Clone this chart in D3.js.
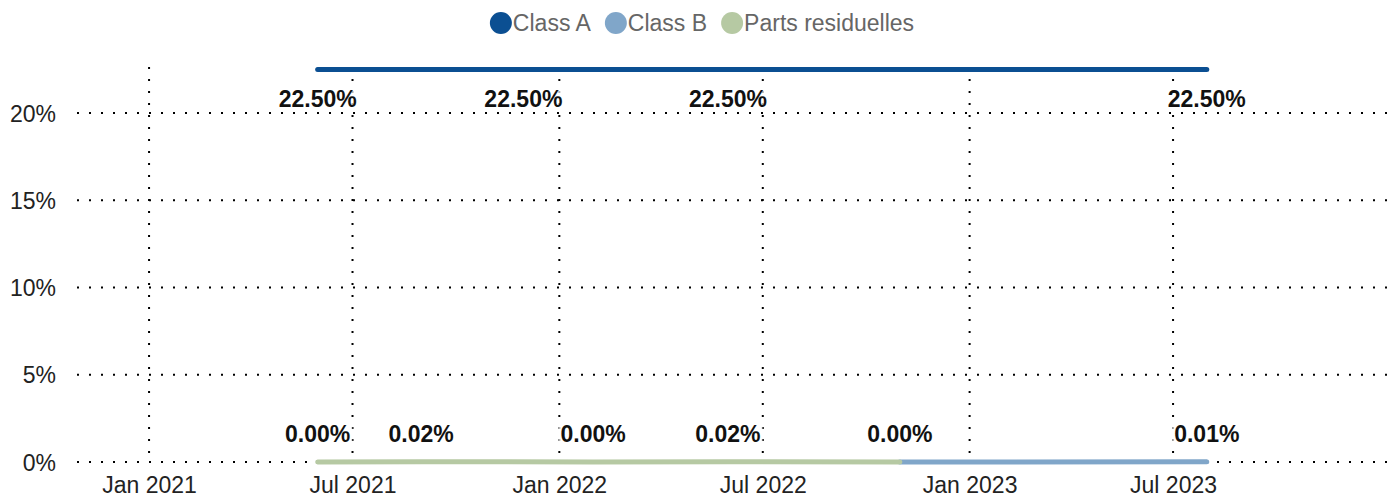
<!DOCTYPE html>
<html>
<head>
<meta charset="utf-8">
<script src="https://cdn.jsdelivr.net/npm/d3@7"></script>
<style>
  body { margin: 0; background: #fff; }
  svg { font-family: "Liberation Sans", Arial, sans-serif; }
</style>
</head>
<body>
<div id="chart"></div>
<script>
// Chart data
const seriesNames = ['Class A', 'Class B', 'Parts residuelles'];
const seriesColors = ['#0b4f92', '#80a6c9', '#b6c9a3'];

const classADates = ['2021-05-31', '2021-11-30', '2022-05-31', '2023-07-31'];
const classAValues = [22.5, 22.5, 22.5, 22.5];

const classBDates = ['2022-10-31', '2023-07-31'];
const classBValues = [0.00, 0.01];

const residDates = ['2021-05-31', '2021-08-31', '2022-01-31', '2022-05-31', '2022-10-31'];
const residValues = [0.00, 0.02, 0.00, 0.02, 0.00];

const yTicks = [0, 5, 10, 15, 20];
const xTickDates = ['2021-01-01', '2021-07-01', '2022-01-01', '2022-07-01', '2023-01-01', '2023-07-01'];

// Svg constants
const width = 1394, height = 497;
const plotLeft = 76, plotRight = 1390, plotTop = 66, plotBottom = 462;

const parse = d3.timeParse('%Y-%m-%d');

const series = [
    { name: seriesNames[0], color: seriesColors[0], labelPos: 'below',
      points: classADates.map((d, i) => ({ date: parse(d), value: classAValues[i] })) },
    { name: seriesNames[1], color: seriesColors[1], labelPos: 'above',
      points: classBDates.map((d, i) => ({ date: parse(d), value: classBValues[i] })) },
    { name: seriesNames[2], color: seriesColors[2], labelPos: 'above',
      points: residDates.map((d, i) => ({ date: parse(d), value: residValues[i] })) }
];

const svg = d3.select('#chart')
                .append('svg')
                .attr('width', width)
                .attr('height', height);

const x = d3.scaleTime()
            .domain([parse('2020-10-28'), parse('2024-01-10')])
            .range([plotLeft, plotRight]);

const y = d3.scaleLinear()
            .domain([0, 22.7])
            .range([plotBottom, plotTop]);

const xTicks = xTickDates.map(parse);

// Grid lines (dotted)
const grid = svg.append('g');
grid.selectAll('.hgrid')
    .data(yTicks)
    .join('line')
        .attr('x1', plotLeft + 1).attr('x2', plotRight)
        .attr('y1', d => y(d)).attr('y2', d => y(d))
        .attr('stroke', '#000')
        .attr('stroke-width', 2)
        .attr('stroke-dasharray', '2,10');

grid.selectAll('.vgrid')
    .data(xTicks)
    .join('line')
        .attr('x1', d => x(d)).attr('x2', d => x(d))
        .attr('y1', plotTop + 1).attr('y2', plotBottom)
        .attr('stroke', '#000')
        .attr('stroke-width', 2)
        .attr('stroke-dasharray', '2,10');

// Axes
const yAxis = svg.append('g')
    .attr('transform', `translate(${plotLeft - 20},0)`)
    .call(d3.axisLeft(y).tickValues(yTicks).tickFormat(d => d + '%').tickSize(0).tickPadding(0));
yAxis.select('.domain').remove();
yAxis.selectAll('text')
    .attr('font-size', 23)
    .attr('font-family', '"Liberation Sans", Arial, sans-serif')
    .attr('fill', '#222')
    .attr('dy', '0.35em');

const xAxis = svg.append('g')
    .attr('transform', `translate(0,${plotBottom})`)
    .call(d3.axisBottom(x).tickValues(xTicks).tickFormat(d3.timeFormat('%b %Y')).tickSize(0).tickPadding(15));
xAxis.select('.domain').remove();
xAxis.selectAll('text')
    .attr('font-size', 23)
    .attr('font-family', '"Liberation Sans", Arial, sans-serif')
    .attr('fill', '#222');

// Lines
const line = d3.line()
    .x(d => x(d.date))
    .y(d => y(d.value));

svg.append('g')
    .selectAll('path')
    .data(series)
    .join('path')
        .attr('d', d => line(d.points))
        .attr('fill', 'none')
        .attr('stroke', d => d.color)
        .attr('stroke-width', 5)
        .attr('stroke-linecap', 'round')
        .attr('stroke-linejoin', 'round');

// Data labels, skipping ones that would collide
const labelLayer = svg.append('g');
const placed = [];
series.forEach(s => {
    s.points.forEach(p => {
        const g = labelLayer.append('g')
            .attr('transform', `translate(${x(p.date)},${y(p.value) + (s.labelPos === 'below' ? 38 : -20)})`);
        const bg = g.append('rect').attr('fill', '#fff').attr('fill-opacity', 0.7);
        const t = g.append('text')
            .attr('text-anchor', 'middle')
            .attr('font-size', 23)
            .attr('font-weight', 'bold')
            .attr('fill', '#111')
            .text(p.value.toFixed(2) + '%');
        const b = t.node().getBBox();
        const box = { x0: x(p.date) + b.x, x1: x(p.date) + b.x + b.width,
                      y0: y(p.value) + b.y, y1: y(p.value) + b.y + b.height };
        const hit = placed.some(o => box.x0 < o.x1 && box.x1 > o.x0 && Math.abs(box.y0 - o.y0) < b.height);
        if (hit) { g.remove(); return; }
        placed.push(box);
        bg.attr('x', b.x - 2).attr('y', b.y + 3).attr('width', b.width + 4).attr('height', b.height - 4);
    });
});

// Legend
const legend = svg.append('g');
let lx = 0;
seriesNames.forEach((name, i) => {
    const item = legend.append('g').attr('transform', `translate(${lx},0)`);
    item.append('circle')
        .attr('cx', 11).attr('cy', 23).attr('r', 11)
        .attr('fill', seriesColors[i]);
    const t = item.append('text')
        .attr('x', 23).attr('y', 31)
        .attr('font-size', 23)
        .attr('fill', '#666')
        .text(name);
    lx += 23 + t.node().getComputedTextLength() + 14;
});
legend.attr('transform', `translate(${702 - (lx - 14) / 2},0)`);
</script>
</body>
</html>
